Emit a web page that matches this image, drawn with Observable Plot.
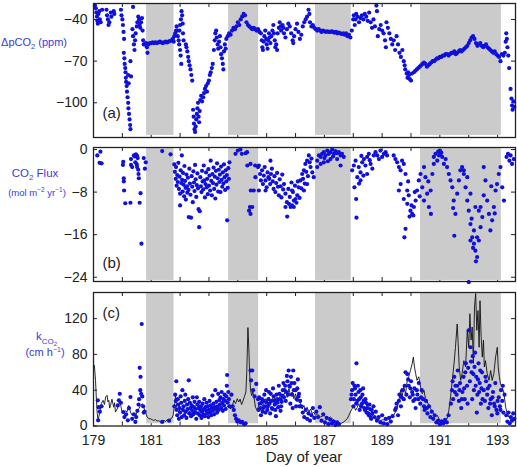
<!DOCTYPE html>
<html><head><meta charset="utf-8">
<script src="https://cdn.jsdelivr.net/npm/d3@7"></script>
<script src="https://cdn.jsdelivr.net/npm/@observablehq/plot@0.6"></script>
<style>
body{margin:0;background:#fff;font-family:"Liberation Sans",Arial,sans-serif;}
#wrap{position:relative;width:517px;height:467px;overflow:hidden;}
#wrap svg{position:absolute;left:0;}
</style></head><body><div id="wrap"></div>
<script>
// ---- data ----
const dayTicks = [179,180,181,182,183,184,185,186,187,188,189,190,191,192,193];
const dayLabels = [179,181,183,185,187,189,191,193];
const bands = [[180.84,181.79],[183.68,184.72],[186.69,187.93],[190.33,193.13]];
const pco2Ticks = [-40,-70,-100];
const fluxTicks = [0,-8,-16,-24];
const kTicks = [0,40,80,120];

// ΔpCO2 (ppm) [day, value]
const pco2 = [
[179.05,-30],[179.08,-32],[179.1,-35],[179.12,-38],[179.13,-41],[179.15,-43],[179.17,-36],[179.2,-34],[179.22,-40],[179.25,-42],[179.3,-33],
[179.45,-33],[179.47,-37],[179.5,-40],[179.52,-44],[179.55,-42],[179.6,-35],[179.62,-38],[179.7,-34],[179.72,-36],
[179.95,-33],[179.97,-37],[180.0,-40],[180.02,-44],[180.04,-49],[180.06,-54],[180.05,-64],[180.07,-68],[180.08,-72],[180.1,-75],[180.11,-78],[180.12,-82],[180.13,-85],[180.15,-88],[180.16,-92],[180.18,-96],[180.2,-100],[180.21,-104],[180.23,-108],[180.25,-112],[180.27,-116],[180.28,-119],[180.2,-80],[180.22,-86],[180.28,-70],[180.3,-81],
[180.37,-31],[180.35,-47],[180.37,-52],[180.4,-58],[180.42,-62],[180.44,-55],[180.46,-50],[180.5,-45],[180.52,-42],[180.55,-38],[180.58,-40],[180.6,-44],[180.62,-46],[180.65,-42],[180.68,-39],[180.7,-48],[180.72,-55],[180.74,-58],
[180.78,-58],[180.82,-57],[180.85,-60],[180.87,-64],[180.9,-58],[180.95,-57],[181.0,-57],[181.05,-56.5],[181.1,-57],[181.15,-56.5],[181.2,-57],[181.25,-56.5],[181.3,-56],[181.35,-56.5],[181.4,-57],[181.45,-56.5],[181.5,-56],[181.55,-56.5],[181.6,-56],[181.65,-55.5],[181.7,-55],[181.75,-54],[181.78,-56],
[181.8,-52],[181.83,-50],[181.86,-48],[181.88,-45],[181.9,-48],[181.92,-52],[181.95,-55],[181.97,-58],[182.0,-62],[182.02,-66],[182.04,-72],[181.98,-48],[182.0,-44],[182.03,-40],[182.05,-34],[182.07,-37],[182.09,-43],[182.1,-50],[182.12,-55],
[182.2,-58],[182.22,-60],[182.25,-63],[182.28,-67],[182.3,-70],[182.33,-73],[182.36,-76],[182.39,-80],[182.42,-84],
[182.45,-105],[182.47,-110],[182.48,-115],[182.5,-119],[182.52,-121],[182.54,-117],[182.56,-112],[182.58,-108],[182.6,-104],[182.62,-100],[182.64,-110],[182.66,-114],[182.68,-106],[182.7,-98],[182.73,-95],[182.76,-99],[182.8,-96],[182.83,-93],[182.86,-90],[182.9,-88],[182.93,-92],[182.96,-86],[183.0,-84],[183.03,-80],[183.06,-78],[183.1,-75],[183.13,-72],
[183.17,-62],[183.2,-55],[183.22,-50],[183.25,-48],[183.27,-53],[183.3,-58],[183.32,-61],[183.35,-56],[183.38,-52],[183.4,-60],[183.42,-65],[183.45,-68],[183.48,-72],[183.5,-76],[183.52,-63],[183.55,-58],[183.58,-61],[183.6,-54],
[183.65,-52],[183.7,-50],[183.75,-51],[183.8,-48],[183.85,-46],[183.9,-47],[183.95,-45],[184.0,-42],[184.05,-44],[184.1,-40],[184.15,-38],[184.2,-36],[184.25,-37],[184.3,-42],[184.35,-44],[184.4,-45],[184.45,-46],[184.5,-47],[184.55,-46],[184.6,-47],[184.65,-48],[184.7,-47],[184.75,-49],
[184.8,-50],[184.83,-55],[184.85,-60],[184.87,-62],[184.9,-56],[184.92,-52],[184.95,-48],[184.98,-54],[185.0,-58],[185.03,-61],[185.05,-55],[185.08,-50],[185.1,-53],[185.13,-57],[185.16,-52],[185.2,-48],[185.23,-44],[185.25,-50],[185.28,-55],[185.3,-60],[185.33,-58],[185.36,-62],[185.38,-50],[185.42,-46],[185.45,-42],[185.48,-45],[185.5,-48],[185.55,-44],[185.58,-46],[185.6,-50],[185.65,-53],[185.7,-47],[185.75,-43],[185.8,-45],[185.85,-50],[185.9,-55],[185.92,-57],[185.95,-52],[186.0,-47],[186.05,-43],[186.1,-49],[186.15,-54],[186.2,-51],[186.25,-45],[186.3,-42],[186.35,-40],[186.4,-38],[186.45,-33],[186.48,-36],[186.5,-42],[186.55,-45],[186.6,-44],
[186.65,-46],[186.7,-47],[186.75,-48],[186.8,-47],[186.85,-48],[186.9,-49],[186.95,-48],[187.0,-48.5],[187.05,-49],[187.1,-48.5],[187.15,-49],[187.2,-49],[187.25,-48.5],[187.3,-49],[187.35,-49.5],[187.4,-49],[187.45,-50],[187.5,-49.5],[187.55,-50],[187.6,-50.5],[187.65,-50],[187.7,-51],[187.75,-50],[187.8,-52],[187.85,-51],[187.9,-53],
[187.95,-48],[188.0,-40],[188.02,-37],[188.05,-44],[188.08,-40],[188.1,-36],[188.15,-38],[188.2,-42],[188.25,-39],[188.3,-37],[188.35,-40],[188.4,-36],[188.45,-38],[188.5,-41],[188.55,-35],[188.6,-42],[188.65,-46],[188.7,-40],[188.75,-45],[188.8,-30],[188.82,-34],[188.85,-52],[188.9,-47],[188.95,-44],[189.0,-48],[189.05,-50],[189.1,-55],[189.13,-60],[189.15,-42],[189.2,-46],[189.25,-50],[189.3,-54],[189.35,-58],[189.4,-55],[189.45,-62],[189.5,-52],[189.55,-58],[189.6,-64],[189.65,-67],[189.7,-62],
[189.75,-70],[189.78,-73],[189.8,-76],[189.85,-79],[189.88,-82],[189.9,-78],[189.93,-80],[189.96,-83],[190.0,-84],[190.03,-79],
[190.1,-78],[190.15,-77],[190.2,-76],[190.25,-75],[190.3,-74],[190.35,-73],[190.4,-72],[190.45,-71],[190.5,-72],[190.55,-74],[190.6,-73],[190.65,-72],[190.7,-71],[190.75,-70],[190.8,-70],[190.85,-69],[190.9,-68],[190.95,-68],[191.0,-67],[191.05,-67],[191.1,-66],[191.15,-66],[191.2,-65],[191.25,-65],[191.3,-66],[191.35,-65],[191.4,-64],[191.45,-64],[191.5,-63],[191.55,-65],[191.6,-64],[191.65,-63],[191.7,-62],[191.75,-63],[191.8,-62],[191.85,-61],[191.9,-60],[191.95,-59],[192.0,-57],[192.05,-55],[192.1,-53],[192.15,-52],[192.2,-54],[192.25,-57],[192.3,-59],[192.35,-58],[192.4,-57],[192.45,-59],[192.5,-60],[192.55,-59],[192.6,-58],[192.65,-60],[192.7,-61],[192.75,-62],[192.8,-63],[192.85,-64],[192.9,-63],[192.95,-65],[193.0,-66],[193.05,-67],[193.1,-70],[193.15,-65],[193.2,-66],[193.25,-64],[193.28,-56],[193.3,-50],[193.32,-54],[193.34,-60],[193.37,-66],[193.4,-75],[193.45,-90],[193.48,-97],[193.5,-102],[193.52,-105],[193.55,-99],[193.58,-103]
];

// CO2 flux (mol m-2 yr-1) [day, value]
const flux = [
[179.13,-1.1],[179.24,-0.4],[179.21,-2.5],[179.28,-2.6],
[180.03,-2.3],[180.02,-2.9],[180.05,-5.4],[180.05,-6.0],[180.06,-7.7],[180.1,-10.1],[180.28,-10],[180.3,-1.8],[180.3,-2.9],[180.34,-3.3],[180.4,-1.1],[180.43,-1.3],[180.47,-0.9],[180.51,-1.2],[180.53,-1.6],[180.45,-2.4],[180.5,-2.8],[180.51,-3.3],[180.55,-3.8],[180.56,-4.6],[180.57,-5.4],[180.6,-10],[180.63,-8.2],[180.66,-17.7],[180.74,-1.6],[180.81,-2.4],[180.78,-3.6],
[181.38,-0.3],[181.67,-0.9],
[181.8,-2.8],[181.82,-4.2],[181.85,-5.5],[181.86,-3.3],[181.88,-6.8],[181.9,-4.8],[181.92,-6.1],[181.94,-2.5],[181.96,-7.4],[181.98,-5.1],[182.0,-8.3],[182.0,-10.5],[182.02,-3.9],[182.04,-6.3],[182.06,-1.1],[182.07,-5.7],[182.09,-7.9],[182.1,-4.4],[182.12,-6.6],[182.14,-8.8],[182.15,-3.1],[182.17,-5.9],[182.19,-7.2],[182.2,-9.4],[182.22,-4.7],[182.24,-6.9],[182.25,-8.1],[182.27,-5.3],[182.29,-7.6],[182.3,-12.7],[182.32,-3.6],[182.34,-6.4],[182.36,-8.5],[182.38,-12.8],[182.4,-5.0],[182.42,-7.0],[182.44,-9.9],[182.46,-4.1],[182.48,-6.2],[182.5,-7.8],[182.52,-2.9],[182.54,-5.6],[182.56,-8.9],[182.58,-6.7],[182.6,-4.5],[182.62,-7.3],[182.64,-11.2],[182.66,-14.6],[182.68,-11.6],[182.7,-5.2],[182.72,-6.9],[182.74,-8.0],[182.76,-4.0],[182.78,-6.0],[182.8,-7.5],[182.82,-3.0],[182.84,-5.8],[182.86,-9.0],[182.88,-6.5],[182.9,-4.3],[182.92,-7.1],[182.94,-5.5],[182.96,-8.4],[182.98,-3.7],[183.0,-6.8],[183.02,-4.9],[183.04,-7.7],[183.06,-2.1],[183.08,-5.9],[183.1,-8.6],[183.12,-4.6],[183.14,-6.3],[183.16,-3.4],[183.18,-7.4],[183.2,-5.1],[183.22,-9.2],[183.24,-4.0],[183.26,-6.6],[183.28,-2.6],[183.3,-5.4],[183.32,-7.9],[183.34,-3.8],[183.36,-6.1],[183.38,-4.7],[183.4,-8.0],[183.42,-3.2],[183.44,-5.7],[183.46,-7.0],[183.48,-4.3],[183.5,-6.4],[183.52,-2.8],[183.54,-5.2],[183.56,-7.6],[183.58,-3.9],[183.6,-6.0],[183.62,-4.8],[183.63,-13.3],[183.65,-7.2],[183.67,-3.5],[183.69,-5.5],[183.71,-2.4],
[183.92,-0.8],[184.0,-0.2],[184.09,0],[184.14,-0.8],[184.27,-0.7],[184.32,-0.5],[184.33,-3.0],[184.42,-10.8],[184.39,-11.5],[184.44,-12.1],[184.45,-7.7],[184.5,-10.8],[184.55,-7.7],[184.61,-5.2],[184.44,-2.7],[184.6,-3.0],
[184.7,-3.3],[184.73,-3.0],[184.77,-4.6],[184.8,-5.8],[184.84,-3.9],[184.87,-6.5],[184.9,-4.9],[184.93,-3.3],[184.96,-5.8],[185.0,-7.1],[185.03,-4.3],[185.06,-5.2],[185.09,-5.5],[185.12,-6.5],[185.15,-4.6],[185.18,-3.6],[185.13,-2.1],[184.73,-7.7],[184.96,-7.7],[185.21,-6.0],[185.24,-7.4],[185.27,-5.0],[185.3,-8.0],[185.33,-6.3],[185.36,-4.4],[185.39,-7.0],[185.42,-8.6],[185.45,-5.6],[185.48,-6.9],[185.51,-9.0],[185.54,-4.7],[185.57,-7.5],
[185.6,-6.5],[185.65,-8.3],[185.71,-12.6],[185.77,-10.2],[185.83,-10.8],[185.88,-7.7],[185.94,-9.6],[186.0,-9.3],[186.06,-8.6],[186.11,-7.1],[186.17,-5.8],[186.23,-4.6],[186.29,-3.9],[186.34,-2.7],[186.4,-2.1],[186.46,-1.1],[186.52,-3.3],[186.58,-4.3],[186.63,-5.2],[185.94,-10.8],[185.88,-10.5],[185.65,-10.8],[186.4,-6.5],[186.29,-7.7],[185.7,-9.9],[185.75,-7.4],[185.8,-8.9],[185.86,-6.2],[185.91,-8.0],[185.98,-6.8],[186.03,-10.0],[186.08,-6.0],[186.14,-9.1],[186.2,-7.3],[186.26,-5.5],[186.32,-6.4],[186.37,-4.2],[186.43,-5.0],[186.49,-2.4],[186.55,-1.7],
[186.75,-2.1],[186.81,-1.1],[186.87,-1.4],[186.92,-0.8],[186.98,-0.5],[187.04,-1.1],[187.1,-0.2],[187.15,-0.8],[187.21,-0.5],[187.27,0],[187.33,-0.8],[187.38,-0.3],[187.44,-0.7],[187.5,-0.5],[187.56,-1.1],[187.61,-0.8],[187.67,-1.4],[186.75,-3.3],[186.87,-2.7],[186.98,-2.4],[187.21,-1.8],[187.44,-1.8],[187.56,-3.0],[187.0,-1.6],[187.3,-1.3],[187.12,-2.2],
[187.96,-3.9],[188.02,-3.0],[188.04,-7.1],[188.08,-2.1],[188.11,-12.8],[188.14,-5.2],[188.19,-3.3],[188.25,-4.3],[188.31,-2.4],[188.37,-1.8],[188.42,-3.0],[188.48,-1.4],[188.54,-0.8],[188.6,-2.7],[188.66,-3.6],[188.71,-1.1],[188.77,-0.5],[188.83,-1.1],[188.89,-1.8],[188.94,-0.2],[189.0,-1.4],[189.06,-0.8],[189.12,-0.5],[189.17,-1.1],[188.25,-5.8],[188.48,-4.6],[188.1,-9.3],[188.2,-6.4],[188.35,-4.9],[188.57,-2.0],[188.28,-1.2],
[189.4,-1.1],[189.46,-1.8],[189.52,-2.4],[189.58,-3.3],[189.64,-3.9],[189.69,-2.1],[189.75,-2.7],[189.81,-4.6],[189.87,-7.7],[189.58,-7.7],[189.64,-6.5],[189.75,-9.3],[189.87,-10.2],[189.92,-8.6],[189.98,-11.5],[190.04,-12.1],[190.1,-10.8],[190.16,-9.6],[190.21,-7.7],[189.77,-16.5],[189.81,-14.9],[189.95,-12.6],[190.02,-10.5],[190.08,-12.4],[190.13,-8.0],[189.9,-6.0],
[190.27,-5.8],[190.33,-4.6],[190.39,-7.1],[190.45,-3.3],[190.5,-5.2],[190.56,-8.3],[190.62,-10.8],[190.68,-7.7],[190.74,-4.6],[190.69,-12.1],[190.79,-2.7],[190.45,-9.6],[190.6,-6.0],[190.3,-8.8],
[190.79,-1.4],[190.85,-0.8],[190.91,-2.1],[190.97,-1.1],[191.02,-0.7],[191.08,-1.4],[191.14,-2.7],[191.2,-1.8],[191.25,-3.3],[191.31,-4.6],[191.37,-5.8],[190.94,-0.4],[191.0,-0.2],[191.05,-0.6],
[191.43,-7.1],[191.48,-9.6],[191.5,-16.2],[191.54,-12.1],[191.6,-8.3],[191.66,-5.8],[191.71,-3.9],[191.46,-11.0],
[191.77,-3.3],[191.83,-4.6],[191.89,-7.1],[191.95,-9.6],[192.0,-11.5],[192.06,-14.0],[192.12,-16.5],[192.18,-17.7],[192.23,-19.0],[192.29,-20.2],[192.35,-17.1],[192.41,-14.6],[192.47,-12.7],[192.0,-24.9],[192.06,-17.1],[192.18,-15.2],[192.29,-16.5],[192.41,-10.8],[191.95,-5.2],[191.83,-3.9],[192.06,-8.3],[192.23,-10.8],[192.35,-11.5],[192.52,-8.6],[192.15,-18.5],[192.25,-21.0],[192.1,-13.0],
[192.58,-5.8],[192.64,-9.6],[192.7,-12.1],[192.75,-15.2],[192.81,-13.3],[192.87,-10.8],[192.93,-7.7],[192.98,-6.5],[193.04,-4.6],[193.1,-3.3],[193.16,-7.1],[193.22,-9.6],[192.52,-3.3],[192.78,-6.9],[192.9,-12.0],
[193.31,-1.4],[193.36,-0.8],[193.41,-2.1],[193.45,-1.1],[193.5,-2.7],[193.56,-1.8]
];

// k_CO2 (cm h-1) modelled line [day, value]
const kLine = [
[179.03,67.8],[179.07,51],[179.1,30],[179.13,13.8],[179.16,6.3],[179.22,15.6],[179.27,25],[179.33,28.7],[179.38,24],[179.42,32.4],[179.47,34.3],[179.5,27],[179.53,28.7],[179.56,20],[179.59,23],[179.64,30],[179.7,21],[179.73,26],[179.76,15.6],[179.82,19],[179.88,25],[179.91,28.7],[179.95,22],[179.99,15.6],[180.05,14],[180.1,17],[180.16,15.6],[180.22,23],[180.28,15.6],[180.34,12],[180.4,14],[180.45,10],[180.51,15.6],[180.57,19.4],[180.63,23],[180.69,25],[180.74,21],[180.8,15.6],[180.86,10],[180.92,8],[180.97,8.2],[181.03,7],[181.09,6.3],[181.15,7],[181.2,5.5],[181.26,6],[181.32,4.5],[181.38,5.5],[181.44,6.3],[181.5,5],[181.55,7],[181.61,6],[181.67,8.2],[181.72,9],[181.76,12],[181.81,25],[181.84,34],[181.88,21],[181.92,18],[181.96,15.6],[182.01,20],[182.07,19.4],[182.13,15],[182.19,13.8],[182.24,18],[182.3,17.5],[182.36,14],[182.42,13.8],[182.47,17],[182.53,15.6],[182.59,13],[182.65,12],[182.7,15],[182.76,15.6],[182.82,12.5],[182.88,13.8],[182.94,16],[183.0,17.5],[183.05,14],[183.11,15.6],[183.17,18],[183.23,19.4],[183.28,16],[183.34,17.5],[183.4,20],[183.46,21],[183.51,18],[183.57,19.4],[183.63,22],[183.69,23],[183.75,19],[183.8,21],[183.86,28.7],[183.92,25],[183.98,30.5],[184.03,26.8],[184.08,30],[184.13,24],[184.18,28],[184.23,33],[184.28,38],[184.31,60],[184.35,110],[184.38,88],[184.41,58],[184.44,40],[184.48,34],[184.52,38],[184.56,32],[184.61,21],[184.67,17.5],[184.73,24],[184.79,26.8],[184.85,22],[184.9,25],[184.96,30.5],[185.02,27],[185.08,32.4],[185.13,25],[185.19,29],[185.25,34.3],[185.31,25],[185.36,30],[185.42,28],[185.48,36],[185.54,27],[185.59,34],[185.65,40],[185.71,32],[185.77,41.7],[185.83,34],[185.88,38],[185.94,30.5],[186.0,36],[186.05,27],[186.11,30],[186.17,25],[186.23,19],[186.29,23],[186.35,17.5],[186.4,21],[186.46,15.6],[186.52,19],[186.58,13.8],[186.63,15.6],[186.69,12],[186.75,13.8],[186.86,10],[186.98,12],[187.1,8.2],[187.21,10],[187.33,6.3],[187.44,4.5],[187.56,2.6],[187.67,4.5],[187.79,8.2],[187.85,12],[187.9,15.6],[187.96,19.4],[188.02,23],[188.08,17.5],[188.14,21],[188.19,25],[188.25,19.4],[188.31,23],[188.37,17.5],[188.42,21],[188.48,15.6],[188.54,12],[188.6,13.8],[188.71,10],[188.83,8],[188.94,6.3],[189.06,7],[189.17,6.3],[189.29,10],[189.4,12],[189.46,15.6],[189.52,21],[189.58,28.7],[189.64,40],[189.69,32],[189.75,43.6],[189.81,36],[189.87,51],[189.92,55],[189.98,62],[190.04,69.6],[190.08,77],[190.12,66],[190.16,58.5],[190.21,51],[190.27,55],[190.33,43.6],[190.39,36],[190.45,40],[190.5,30.5],[190.56,27],[190.62,23],[190.68,19.4],[190.73,15.6],[190.79,13.8],[190.85,10],[190.91,12],[190.97,8],[191.02,6.3],[191.08,7],[191.14,4.5],[191.2,6.3],[191.25,8.2],[191.31,17.5],[191.37,32.4],[191.43,51],[191.49,69.6],[191.54,88],[191.6,114],[191.63,95],[191.67,66],[191.72,51],[191.77,58.5],[191.83,73],[191.89,66],[191.95,107],[192.0,88],[192.04,125.5],[192.08,96],[192.12,110.6],[192.16,70],[192.2,133],[192.24,148],[192.28,107],[192.32,129],[192.36,88],[192.39,140],[192.43,100],[192.47,77],[192.51,96],[192.54,66],[192.58,73],[192.64,58.5],[192.7,51],[192.76,62],[192.81,51],[192.87,58.5],[192.93,77],[192.99,88],[193.02,66],[193.06,55],[193.1,47],[193.16,43.6],[193.22,36],[193.28,21],[193.33,14],[193.39,10],[193.45,7.5],[193.5,6.3],[193.56,10],[193.6,8.5]
];

// k_CO2 (cm h-1) measured [day, value]
const kDots = [
[179.15,28.7],[179.18,21],[179.16,6.3],[179.28,22],[179.22,16],
[179.84,23],[179.88,28.7],[179.91,36],[179.95,26],[180.03,15.6],[180.07,10],[180.13,13],[180.19,6.3],[180.23,20],[180.28,32.4],[180.34,8],[180.4,13],[180.45,4.5],[180.48,10],[180.52,17],[180.56,24],[180.6,65],[180.63,55],[180.65,36],[180.67,114],[180.69,33],[180.72,22],[180.74,15],[180.77,16],[180.62,40],[180.58,30],
[181.38,4.5],[181.62,6],
[181.8,22],[181.83,35],[181.85,28],[181.87,50],[181.88,18],[181.9,12],[181.92,30],[181.94,24],[181.96,8],[181.98,20],[182.0,15],[182.02,33],[182.04,26],[182.06,10],[182.08,40],[182.1,18],[182.12,22],[182.14,12],[182.16,28],[182.18,35],[182.2,16],[182.22,9],[182.24,24],[182.26,19],[182.28,30],[182.3,51],[182.32,14],[182.34,26],[182.36,20],[182.38,11],[182.4,23],[182.42,17],[182.44,32],[182.46,13],[182.48,21],[182.5,27],[182.52,15],[182.54,19],[182.56,8],[182.58,32],[182.6,24],[182.62,14],[182.64,20],[182.66,27],[182.68,12],[182.7,18],[182.72,22],[182.74,9],[182.76,16],[182.78,25],[182.8,13],[182.82,19],[182.84,30],[182.86,11],[182.88,21],[182.9,17],[182.92,26],[182.94,14],[182.96,22],[182.98,10],[183.0,18],[183.02,28],[183.04,15],[183.06,23],[183.08,12],[183.1,20],[183.12,34],[183.14,17],[183.16,25],[183.18,13],[183.2,21],[183.22,40],[183.24,19],[183.26,27],[183.28,15],[183.3,22],[183.32,36],[183.34,18],[183.36,29],[183.38,24],[183.4,32],[183.42,20],[183.44,38],[183.46,26],[183.48,17],[183.5,30],[183.52,23],[183.54,35],[183.56,28],[183.58,19],[183.6,33],[183.62,45],[183.63,57],[183.65,26],[183.67,38],[183.69,30],[183.71,22],
[183.78,35],[183.82,22],[183.86,18],[183.9,12],[183.94,8],[183.98,5],[184.03,6.3],[184.1,4],[184.15,4.5],[184.22,2],[184.27,3],[184.44,62],[184.5,62],[184.46,51],[184.53,40],[184.58,33],[184.64,47],[184.7,30],
[184.72,18],[184.76,25],[184.8,12],[184.84,30],[184.88,20],[184.92,35],[184.96,15],[185.0,26],[185.04,22],[185.08,38],[185.12,14],[185.16,28],[185.2,19],[185.24,33],[185.28,24],[185.32,11],[185.36,30],[185.4,21],[185.44,36],[185.48,17],[185.52,27],[185.56,40],
[184.74,32],[184.78,20],[184.82,26],[184.86,16],[184.9,28],[184.94,22],[184.98,40],[185.02,18],[185.06,30],[185.1,25],[185.14,36],[185.18,20],[185.22,42],[185.26,28],[185.3,18],[185.34,35],[185.38,26],[185.42,45],[185.46,30],[185.5,22],[185.54,34],[185.58,48],[185.62,40],[185.66,28],[185.7,56],[185.74,35],[185.78,45],[185.86,48],[185.94,40],[186.06,42],[186.1,33],[186.14,22],
[185.6,32],[185.64,45],[185.68,38],[185.72,50],[185.76,62],[185.8,44],[185.84,55],[185.88,35],[185.92,62],[185.96,48],[186.0,40],[186.04,30],[186.08,52],[186.12,36],[186.16,28],[185.82,25],[185.9,20],[186.02,22],
[186.2,22],[186.25,15],[186.3,10],[186.35,18],[186.4,8],[186.45,14],[186.5,6],[186.55,12],[186.6,20],[186.65,9],
[186.72,16],[186.78,10],[186.84,21],[186.9,6],[186.96,13],[187.02,4],[187.08,9],[187.14,2],[187.2,7],[187.26,3],[187.32,5],[187.38,1],[187.44,4],[187.5,2],
[187.92,30],[187.96,40],[188.0,22],[188.04,45],[188.08,35],[188.11,70],[188.14,28],[188.18,38],[188.22,18],[188.26,32],[188.3,25],[188.34,42],[188.38,20],[188.42,30],[188.46,15],[188.5,24],[188.54,12],[188.58,19],[188.62,8],[188.66,14],[188.7,22],[188.74,10],[188.78,16],[188.82,6],
[187.94,35],[187.98,48],[188.02,30],[188.06,42],[188.1,25],[188.16,45],[188.2,30],[188.24,40],[188.28,22],[188.32,35],[188.36,28],[188.4,18],[188.44,26],[188.48,20],[188.52,14],[188.56,24],[188.6,10],[188.64,18],
[188.88,10],[188.94,4],[189.0,12],[189.06,3],[189.12,8],[189.18,2],[189.24,9],[189.3,5],[189.36,11],
[189.45,18],[189.5,25],[189.55,12],[189.6,35],[189.65,22],[189.7,40],[189.75,30],[189.81,60],[189.87,58],[189.92,45],[189.96,32],[190.0,50],[190.04,38],[190.08,28],[190.12,42],[190.16,20],
[189.48,20],[189.58,28],[189.68,32],[189.78,45],[189.84,35],[189.9,52],[189.98,42],[190.06,35],[190.14,30],[190.2,40],[190.25,30],[190.35,32],[190.45,22],[190.55,20],
[190.22,35],[190.27,48],[190.32,25],[190.37,40],[190.42,30],[190.47,18],[190.52,28],[190.57,14],[190.62,22],[190.67,10],[190.72,16],[190.77,8],[190.82,12],
[190.88,4],[190.94,6],[191.0,2],[191.06,5],[191.12,3],[191.18,7],[191.24,4],[191.3,12],
[191.38,25],[191.42,40],[191.46,30],[191.5,55],[191.54,45],[191.58,35],[191.62,62],[191.66,28],[191.7,48],[191.74,20],[191.78,38],[191.82,55],[191.86,30],[191.9,70],[191.94,45],[192.0,107],[192.06,88],[192.1,60],[192.14,78],[192.18,40],[192.22,82],[192.26,55],[192.3,35],[192.34,70],[192.38,48],[192.42,25],[192.46,60],[191.96,25],[192.12,30],[192.28,15],
[191.44,50],[191.52,38],[191.6,45],[191.68,40],[191.76,30],[191.84,42],[191.88,60],[191.98,65],[192.04,50],[192.08,72],[192.16,58],[192.2,66],[192.24,45],[192.32,52],[192.36,38],[192.4,62],[192.44,42],[192.48,30],[192.58,55],[192.66,42],[192.74,25],[192.82,32],[192.9,22],[193.0,28],[193.1,18],[193.18,45],
[192.52,40],[192.56,28],[192.6,50],[192.64,35],[192.68,20],[192.72,45],[192.76,30],[192.8,12],[192.84,38],[192.88,25],[192.92,48],[192.96,18],[192.99,14],[193.04,32],[193.08,22],[193.12,40],[193.16,28],[193.2,15],[193.24,35],
[193.3,12],[193.34,5],[193.38,15],[193.42,3],[193.46,10],[193.5,6],[193.54,14],[193.58,8]
];

// ---- drawing ----
const BLUE_DOT = "#1010dc";
const BLUE_TXT = "#3a3ad8";
const INK = "#222";
const FONT = "'Liberation Sans', Arial, sans-serif";
const W = 517, ML = 93, MR = 2, FW = W - ML - MR;
const xDomain = [179, 193.62];
const wrap = document.getElementById("wrap");

function panel({top, height, mt, mb, yDomain, bandLow, yTicks, letter, letterAnchor, letterDy, xLabels, extraMarks, dots}) {
  const fh = height - mt - mb;
  const marks = [
    Plot.tickX(dayTicks, {x: d => d, insetTop: fh - 4, stroke: INK}),
    Plot.tickX(dayTicks, {x: d => d, insetBottom: fh - 4, stroke: INK}),
    Plot.tickY(yTicks, {y: d => d, insetRight: FW - 4, stroke: INK}),
    Plot.tickY(yTicks, {y: d => d, insetLeft: FW - 4, stroke: INK}),
    Plot.rect(bands, {x1: d => d[0], x2: d => d[1], y1: bandLow, y2: yDomain[1], fill: "#cbcbcb"}),
    ...(extraMarks || []),
    Plot.dot(dots, {x: d => d[0], y: d => d[1], r: 2.1, fill: BLUE_DOT, stroke: "none"}),
    Plot.frame({stroke: INK, strokeWidth: 1.3}),
    Plot.text([letter], {text: d => d, frameAnchor: letterAnchor, textAnchor: "start", dx: 9, dy: letterDy, fontSize: 15, fill: INK}),
    Plot.axisY(yTicks, {tickSize: 0, tickPadding: 6, fontSize: 14, label: null, color: INK})
  ];
  if (xLabels) marks.push(Plot.axisX(xLabels, {tickSize: 0, tickPadding: 9, fontSize: 14, label: null, color: INK}));
  const svg = Plot.plot({
    width: W, height, marginLeft: ML, marginRight: MR, marginTop: mt, marginBottom: mb,
    x: {domain: xDomain, axis: null},
    y: {domain: yDomain, axis: null},
    style: {fontFamily: FONT, background: "transparent"},
    marks
  });
  svg.style.top = top + "px";
  wrap.appendChild(svg);
  return d3.select(svg);
}

const sA = panel({top: 0, height: 142, mt: 3, mb: 5, yDomain: [-125, -28.5], bandLow: -123.5, yTicks: pco2Ticks,
  letter: "(a)", letterAnchor: "bottom-left", letterDy: -19.5, dots: pco2});
const sB = panel({top: 142, height: 142, mt: 5, mb: 3, yDomain: [-24.8, 0.38], bandLow: -24.6, yTicks: fluxTicks,
  letter: "(b)", letterAnchor: "bottom-left", letterDy: -13.5, dots: flux});
const sC = panel({top: 284, height: 183, mt: 8, mb: 41.5, yDomain: [0, 149.2], bandLow: 2.5, yTicks: kTicks,
  letter: "(c)", letterAnchor: "top-left", letterDy: 14.5, xLabels: dayLabels, dots: kDots,
  extraMarks: [Plot.line(kLine, {x: d => d[0], y: d => d[1], stroke: "#111", strokeWidth: 0.9})]});

// axis titles
function label(sel, x, y, size, anchor, parts, fill) {
  const t = sel.append("text").attr("x", x).attr("y", y).attr("text-anchor", anchor)
    .attr("font-family", FONT).attr("font-size", size).attr("fill", fill || BLUE_TXT);
  for (const p of parts) {
    const s = t.append("tspan").text(p.t);
    if (p.size) s.attr("font-size", p.size);
    if (p.dy) s.attr("dy", p.dy);
  }
}
label(sA, 67, 46, 11, "end", [{t: "ΔpCO"}, {t: "2", size: 7.5, dy: 3}, {t: " (ppm)", dy: -3}]);
label(sB, 35, 35, 11.5, "middle", [{t: "CO"}, {t: "2", size: 8, dy: 3}, {t: " Flux", dy: -3}]);
label(sB, 37, 54, 9.5, "middle", [{t: "(mol m"}, {t: "−2", size: 6.5, dy: -4}, {t: " yr", dy: 4}, {t: "−1", size: 6.5, dy: -4}, {t: ")", dy: 4}]);
label(sC, 36, 56, 11.5, "start", [{t: "k"}, {t: "CO", size: 8, dy: 4}, {t: "2", size: 6, dy: 2}]);
label(sC, 45, 72, 11, "middle", [{t: "(cm h"}, {t: "−1", size: 7, dy: -4}, {t: ")", dy: 4}]);
label(sC, 304, 178, 15, "middle", [{t: "Day of year"}], INK);
</script></body></html>
